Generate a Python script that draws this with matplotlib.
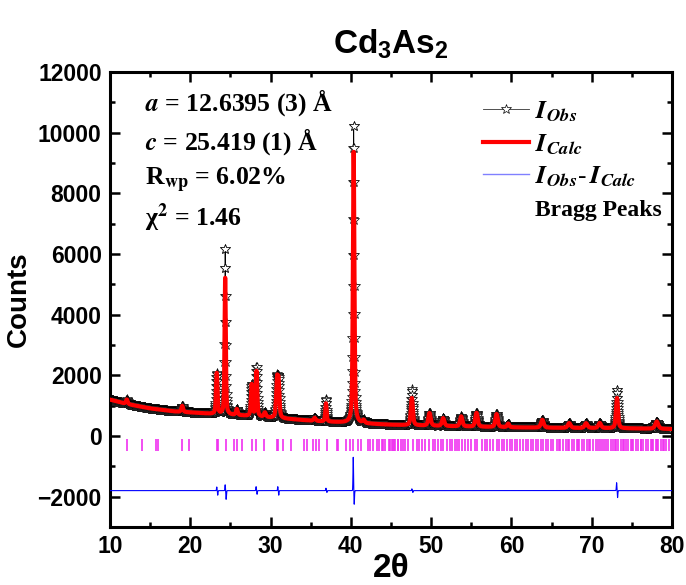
import numpy as np
import matplotlib
matplotlib.use("Agg")
import matplotlib.pyplot as plt
from matplotlib.font_manager import FontProperties
from matplotlib.lines import Line2D

plt.rcParams['font.family'] = ['Liberation Sans', 'DejaVu Sans']
plt.rcParams['mathtext.fontset'] = 'custom'
plt.rcParams['mathtext.rm'] = 'Liberation Sans:bold'
plt.rcParams['mathtext.bf'] = 'Liberation Sans:bold'
plt.rcParams['mathtext.it'] = 'Liberation Sans:bold:italic'

# ---------------- data ----------------
# background (2theta, counts)
bg_tt = [10, 12, 15, 18, 21, 23, 26, 30, 33, 36, 39, 42, 45, 50, 55, 60, 65, 70, 75, 80]
bg_cnt = [1200, 1060, 910, 810, 760, 720, 680, 600, 545, 485, 445, 405, 370, 335, 305, 285, 270, 260, 250, 230]

# calculated peaks: position, height above background, FWHM
pk_pos = [12.1, 19.0, 23.3, 24.35, 25.8, 27.65, 28.25, 29.3, 30.8, 31.0, 35.5, 36.9,
          40.35, 41.6, 47.6, 49.8, 51.5, 53.75, 55.65, 58.15, 59.6, 63.85, 67.2, 69.3,
          71.0, 73.15, 78.1]
pk_hgt = [150, 200, 1350, 4550, 200, 1050, 1500, 150, 1150, 1100, 100, 600,
          9000, 100, 900, 420, 260, 330, 460, 430, 120, 260, 160, 160,
          170, 1000, 240]
pk_fwhm = [0.25, 0.25, 0.22, 0.18, 0.25, 0.22, 0.22, 0.3, 0.25, 0.25, 0.3, 0.2,
           0.22, 0.3, 0.3, 0.35, 0.35, 0.35, 0.35, 0.35, 0.3, 0.4, 0.4, 0.4,
           0.4, 0.3, 0.45]

# observed excess over the calculation at peak tops
ex_pos = [24.35, 28.25, 36.9, 40.35, 47.6, 73.15]
ex_hgt = [1000, 120, 150, 900, 280, 280]

# difference curve: offset and features (position, up, down)
diff_offset = -1800
df_pos = [23.3, 24.35, 28.2, 30.9, 36.9, 40.3, 47.6, 73.1]
df_up = [120, 200, 130, 130, 80, 1100, 60, 260]
df_down = [150, 300, 120, 150, 60, 450, 60, 230]

# Bragg reflection positions
bragg = [12.16, 14.03, 15.73, 16.02, 19.0, 19.88, 23.28, 23.49, 24.45, 25.44, 25.78, 26.4,
         27.64, 28.18, 29.18, 30.76, 30.96, 31.5, 32.5, 34.16, 34.57, 35.32, 35.65, 36.03,
         36.98, 38.23, 38.43, 39.39, 39.89, 40.3, 40.92, 42.17, 42.38, 42.79, 43.2, 43.83,
         44.04, 44.25, 44.78, 44.87, 45.07, 45.2, 45.36, 45.49, 45.83, 45.9, 46.19, 46.53,
         47.15, 47.77, 48.27, 48.52, 49.22, 49.76, 50.47, 50.88, 51.22, 51.51, 51.92, 52.34,
         52.55, 52.96, 53.17, 53.79, 54.21, 54.62, 55.45, 55.66, 56.7, 56.9, 57.73, 58.15,
         58.48, 58.77, 59.06, 59.39, 59.81, 60.02, 60.43, 60.64, 61.47, 61.8, 62.09, 62.38,
         62.72, 63.05, 63.34, 63.63, 63.96, 64.25, 64.58, 64.87, 65.21, 65.62, 66.04, 66.37,
         66.78, 67.2, 67.49, 67.78, 68.11, 68.44, 68.73, 69.02, 69.36, 69.77, 70.19, 70.52,
         70.81, 71.22, 71.76, 72.06, 72.39, 72.68, 73.01, 73.3, 73.59, 73.92, 74.21, 74.55,
         74.84, 75.17, 75.5, 75.79, 76.08, 76.41, 76.75, 77.04, 77.33, 77.66, 77.99, 78.28,
         78.57, 78.91, 79.24,
         41.3, 43.5, 46.8, 48.9, 50.2, 53.5, 55.0, 56.3, 57.3, 61.1, 65.9, 67.0, 68.3, 69.6,
         71.0, 71.5, 72.9, 74.0, 75.0, 76.2, 77.5, 78.1, 79.0, 79.6]

# ---------------- profiles ----------------
tt = np.arange(10.0, 80.0001, 0.02)


def pv(x, x0, h, w, eta=0.5):
    g = np.exp(-4 * np.log(2) * ((x - x0) / w) ** 2)
    l = 1.0 / (1 + 4 * ((x - x0) / w) ** 2)
    return h * (eta * l + (1 - eta) * g)


calc = np.interp(tt, bg_tt, bg_cnt).astype(float)
for p, h, w in zip(pk_pos, pk_hgt, pk_fwhm):
    calc += pv(tt, p, h, w)
obs = calc.copy()
for p, h in zip(ex_pos, ex_hgt):
    obs += pv(tt, p, h, 0.08, 0.0)
diff = np.full_like(tt, diff_offset, dtype=float)
for p, u, d in zip(df_pos, df_up, df_down):
    diff += pv(tt, p, u, 0.08, 0.0) - pv(tt, p + 0.12, d, 0.08, 0.0)

# ---------------- figure ----------------
fig = plt.figure(figsize=(6.86, 5.85), dpi=100)
ax = fig.add_axes([0.1603, 0.0991, 0.8193, 0.7778])

ax.plot(tt, obs, color='black', lw=0.6, marker='*', ms=7.5, mfc='white', mec='black',
        mew=0.5, zorder=2)
ax.plot(tt, calc, color='red', lw=3, zorder=3)
ax.plot(tt, diff, color='blue', lw=0.8, zorder=3)
ax.vlines(bragg, -480, -90, color='#f030f0', lw=1.2, zorder=2)

ax.set_xlim(10, 80)
ax.set_ylim(-3000, 12000)
ax.set_xticks(np.arange(10, 81, 10))
ax.set_xticks(np.arange(15, 80, 10), minor=True)
ax.set_yticks(np.arange(-2000, 12001, 2000))
ax.set_yticks(np.arange(-3000, 12000, 2000), minor=True)
ax.tick_params(which='both', direction='in', top=True, right=True, width=1.8)
ax.tick_params(which='major', length=7, labelsize=16.5, pad=6)
ax.tick_params(which='minor', length=3.6)
for lab in ax.get_xticklabels() + ax.get_yticklabels():
    lab.set_fontweight('bold')
for s in ax.spines.values():
    s.set_linewidth(2.2)

ax.set_xlabel('2θ', fontsize=24, fontweight='bold', labelpad=-4)
ax.set_ylabel('Counts', fontsize=20, fontweight='bold', labelpad=4)

fig.text(0.570, 0.925, r'Cd$_{\mathbf{3}}$As$_{\mathbf{2}}$', ha='center', va='center',
         fontsize=24, fontweight='bold', math_fontfamily='custom')

serif = dict(family='Liberation Serif', fontweight='bold', fontsize=18.5,
             math_fontfamily='stix', transform=fig.transFigure)
lines_txt = [r'$\mathbfit{a}$ = 12.6395 (3) Å',
             r'$\mathbfit{c}$ = 25.419 (1) Å',
             r'R$_{\mathbf{wp}}$ = 6.02%',
             r'χ$^{\mathbf{2}}$ = 1.46']
ys_px = [103, 142, 180, 218]
for t, ypx in zip(lines_txt, ys_px):
    fig.text(145 / 686, 1 - ypx / 585, t, va='center', ha='left', **serif)

handles = [Line2D([], [], color='#333333', lw=0.6, marker='*', ms=7, mfc='white', mec='black', mew=0.5),
           Line2D([], [], color='red', lw=3),
           Line2D([], [], color='#8080ff', lw=1),
           Line2D([], [], color='none')]
labels = [r'$\mathbfit{I}_{\mathbfit{Obs}}$', r'$\mathbfit{I}_{\mathbfit{Calc}}$',
          r'$\mathbfit{I}_{\mathbfit{Obs}}\mathbf{\text{-}}\,\mathbfit{I}_{\mathbfit{Calc}}$', 'Bragg Peaks']
fp = FontProperties(family='Liberation Serif', weight='bold', size=19, math_fontfamily='stix')
leg = ax.legend(handles, labels, loc='upper right', bbox_to_anchor=(1.014, 0.98), frameon=False,
                prop=fp, handlelength=1.75, handletextpad=0.2, labelspacing=0.3,
                borderaxespad=0.3)
leg.get_texts()[3].set_fontsize(17)

fig.savefig('out.png', dpi=100)
